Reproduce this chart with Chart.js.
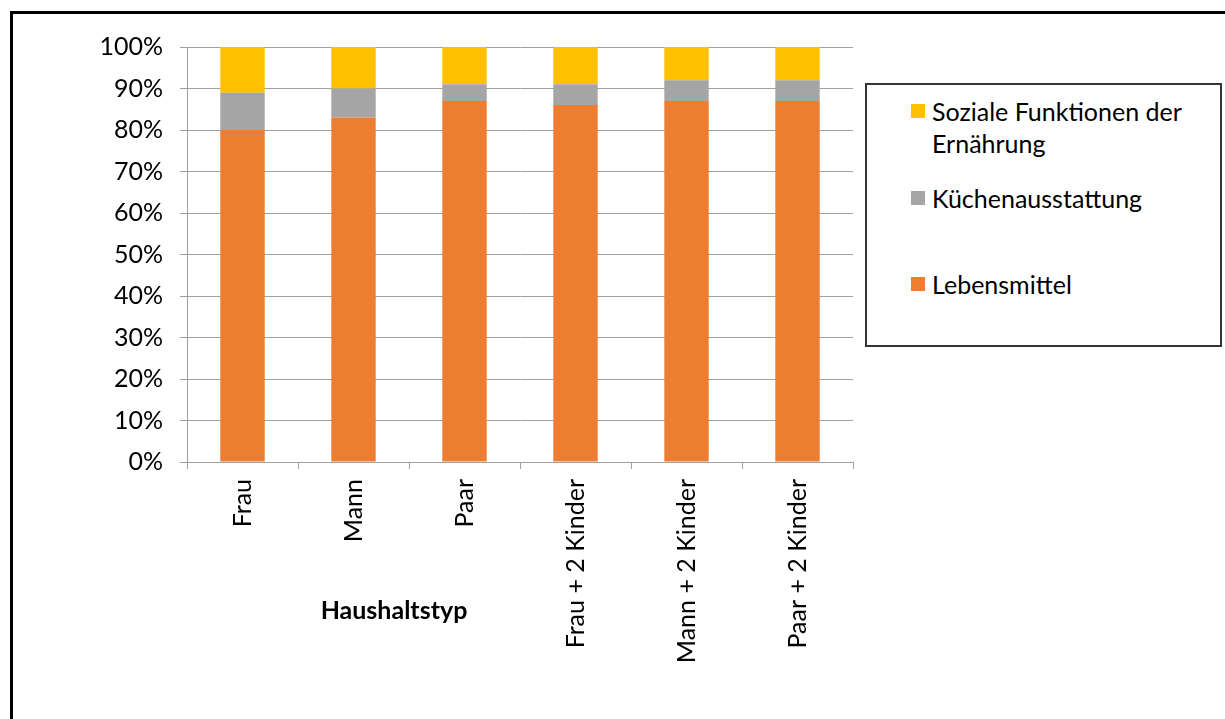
<!DOCTYPE html>
<html><head><meta charset="utf-8">
<script src="https://cdn.jsdelivr.net/npm/chart.js@4"></script>
<style>
html,body{margin:0;padding:0;background:#fff;overflow:hidden}
#wrap{position:relative;width:1225px;height:719px}
#c{position:absolute;left:0;top:0}
#frame{position:absolute;left:10px;top:11px;width:1300px;height:800px;border:3px solid #000;box-sizing:border-box;pointer-events:none}
#legend{position:absolute;left:865px;top:83px;width:357px;height:264px;border:2px solid #333;box-sizing:border-box;display:flex;flex-direction:column;font-family:Lato,sans-serif;font-size:25px;color:#000;background:#fff}
.item{flex:1;display:flex;align-items:flex-start;padding-top:10px;padding-left:44px;padding-right:20px;line-height:32px}
.sw{width:14px;height:14px;margin-top:9px;margin-right:7px;flex:none}
#xtitle{position:absolute;left:294px;width:200px;top:594px;text-align:center;font-family:Lato,sans-serif;font-weight:bold;font-size:25px;color:#000}
</style></head>
<body>
<div id="wrap">
<canvas id="c" width="1225" height="719"></canvas>
<div id="frame"></div>
<div id="legend"></div>
<div id="xtitle">Haushaltstyp</div>
</div>
<script>
const categories = ['Frau', 'Mann', 'Paar', 'Frau + 2 Kinder', 'Mann + 2 Kinder', 'Paar + 2 Kinder'];
const lebensmittel = [80, 83, 87, 86, 87, 87];
const kuechenausstattung = [9, 7, 4, 5, 5, 5];
const sozialeFunktionen = [11, 10, 9, 9, 8, 8];
const seriesNames = ['Lebensmittel', 'Küchenausstattung', 'Soziale Funktionen der Ernährung'];
const seriesColors = ['#ED7D31', '#A5A5A5', '#FFC000'];
const axisTitle = 'Haushaltstyp';

const FONT = 'Lato, sans-serif';
const gridColor = '#a0a0a0';

const chart = new Chart(document.getElementById('c'), {
  type: 'bar',
  data: {
    labels: categories,
    datasets: [
      { label: seriesNames[0], data: lebensmittel, backgroundColor: seriesColors[0] },
      { label: seriesNames[1], data: kuechenausstattung, backgroundColor: seriesColors[1] },
      { label: seriesNames[2], data: sozialeFunktionen, backgroundColor: seriesColors[2] }
    ]
  },
  options: {
    responsive: false,
    animation: false,
    devicePixelRatio: 1,
    barPercentage: 0.4,
    categoryPercentage: 1,
    layout: { padding: { left: 0, top: 47, right: 372, bottom: 0 } },
    plugins: { legend: { display: false }, tooltip: { enabled: false } },
    scales: {
      x: {
        stacked: true,
        offset: true,
        grid: { drawOnChartArea: false, drawTicks: true, tickLength: 7, color: gridColor, offset: true },
        border: { color: gridColor, width: 1 },
        ticks: { minRotation: 90, maxRotation: 90, padding: 10, color: '#000', font: { family: FONT, size: 25 }, autoSkip: false },
        afterFit: s => { s.height = 257; }
      },
      y: {
        stacked: true,
        min: 0, max: 100,
        grid: { color: gridColor, tickLength: 7 },
        border: { color: gridColor, width: 1 },
        ticks: { stepSize: 10, padding: 17, color: '#000', font: { family: FONT, size: 25 }, callback: v => v + '%' },
        afterFit: s => { s.width = 187; }
      }
    }
  }
});

document.getElementById('xtitle').textContent = axisTitle;
const leg = document.getElementById('legend');
chart.data.datasets.slice().reverse().forEach(ds => {
  const it = document.createElement('div'); it.className = 'item';
  const sw = document.createElement('div'); sw.className = 'sw'; sw.style.background = ds.backgroundColor;
  const tx = document.createElement('div'); tx.textContent = ds.label;
  it.appendChild(sw); it.appendChild(tx); leg.appendChild(it);
});
</script>
</body></html>
